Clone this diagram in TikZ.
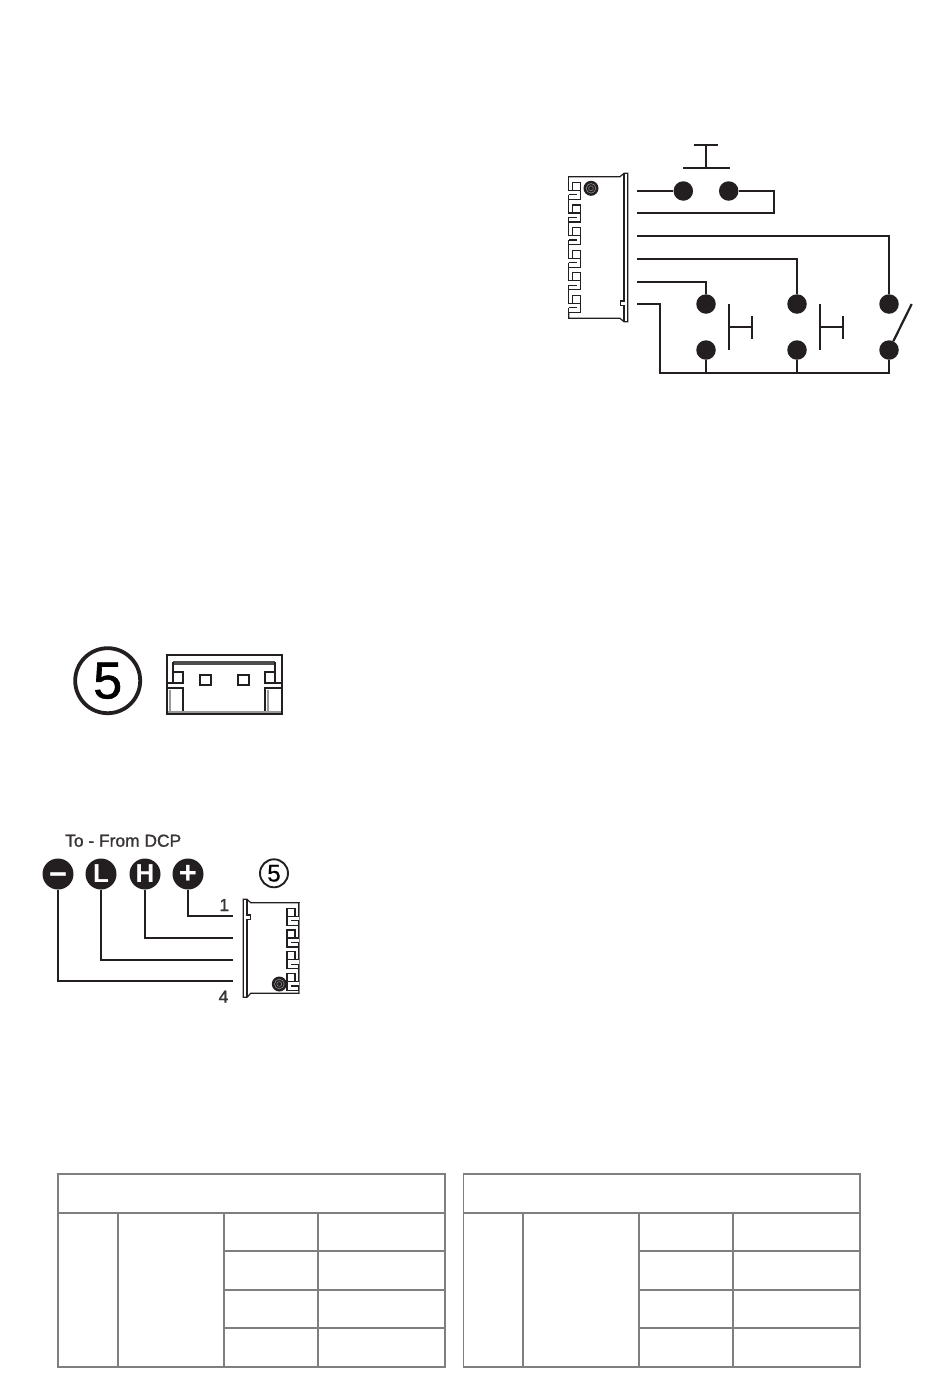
\documentclass[tikz,border=0pt]{standalone}
\usepackage{fontspec}
\setmainfont{Liberation Sans}
\tikzset{
  x=1pt,y=-1pt,
  wire/.style={draw=wirecol,line width=2.2pt,line join=miter},
  dot/.style={circle,fill=wirecol,draw=none,minimum size=19.5pt,inner sep=0pt},
  badge/.style={circle,fill=wirecol,draw=none,minimum size=31pt,inner sep=0pt,text=white,font=\fontsize{26}{26}\selectfont\bfseries},
  gridline/.style={draw=gridcol,line width=1.9pt,line cap=rect},
  fine/.style={draw=wirecol,line width=1.2pt,line join=miter},
  thinwire/.style={draw=wirecol,line width=1.8pt,line join=miter},
  heavy/.style={draw=wirecol,line width=1.9pt,line join=miter},
  screw/.style={circle,fill=wirecol,draw=none,minimum size=15pt,inner sep=0pt},
  label/.style={inner sep=0pt,text=wirecol!90,font=\fontsize{17.4}{20}\selectfont},
  pics/tooth/.style={code={
    \draw[fine] (0,-6)--(0,8)--(12,8) (0,12.5)--(8,12.5) (0,12.5)--(0,17)--(4,17);
    \draw[fine] (4,8)--(4,0)--(12,0)--(12,17)--(4,17);
  }},
  pics/screwhead/.style={code={
    \node[screw] at (0,0) {};
    \draw[white!55!black,line width=0.6pt] (0,0) circle (4.8);
    \draw[white!55!black,line width=0.5pt] (0,0) circle (2.4);
  }}
}
\definecolor{wirecol}{HTML}{231F20}
\definecolor{gridcol}{HTML}{7F7F7F}
\begin{document}
\begin{tikzpicture}
\useasboundingbox[fill=white] (0,0) rectangle (950,1374);

% ---- upper right: connector
\foreach \i in {0,...,5} \pic at (568.8,{182.3+22.6*\i}) {tooth};
\draw[fine] (568.8,176.7)--(620,176.7)--(624,173.3)--(627.7,173.3)--(627.7,321.7)--(624,321.7)--(620,318.3)--(568.8,318.3)--(568.8,312.5);
\draw[fine] (624,173.3)--(624,301)--(620.7,301)--(620.7,305.7)--(624,305.7)--(624,321.7);
\pic at (591,188.3) {screwhead};

\node[dot] (s1a) at (683.3,191) {};
\node[dot] (s1b) at (728.7,191) {};
\node[dot] (s2a) at (706,304) {};
\node[dot] (s2b) at (706,350) {};
\node[dot] (s3a) at (797,304) {};
\node[dot] (s3b) at (797,350) {};
\node[dot] (s4a) at (889,304) {};
\node[dot] (s4b) at (889,350) {};
\coordinate (p1) at (637,191);
\coordinate (p2) at (637,213);
\coordinate (p3) at (637,236);
\coordinate (p4) at (637,259);
\coordinate (p5) at (637,282);
\coordinate (p6) at (637,304);
\coordinate (bus) at (660,373);

\draw[wire] (p1)--(s1a);
\draw[wire] (s1b)--(774,191)--(774,213)--(p2);
\draw[wire] (p3)--(889,236)--(s4a);
\draw[wire] (p4)--(797,259)--(s3a);
\draw[wire] (p5)--(706,282)--(s2a);
\draw[wire] (p6)--(660,304)--(bus)--(889,373)--(s4b);
\draw[wire] (s2b)--(706,373);
\draw[wire] (s3b)--(797,373);

% push buttons
\draw[wire] (694,145)--(718,145) (706,145)--(706,168) (683,168)--(730,168);
\draw[wire] (729,304)--(729,350) (729,327)--(752,327) (752,316)--(752,339);
\draw[wire] (820,304)--(820,350) (820,327)--(843,327) (843,316)--(843,339);
% toggle switch
\draw[wire] (s4b)--(911.7,304);

% ---- left: badge and socket
\node[circle,draw=wirecol,line width=3.8pt,minimum size=65pt,inner sep=0pt,font=\fontsize{52}{52}\selectfont] (five) at (107.7,680.7) {\addfontfeature{FakeBold=1.2}5};

\draw[heavy,line width=2.3pt] (166.7,654.8) rectangle (281.7,714.2);
\draw[wirecol!80,line width=4pt] (173.3,663)--(275,663);
\draw[heavy] (173.3,662)--(173.3,682.7) (275,662)--(275,682.7);
\draw[heavy] (173.3,671.7)--(183.3,671.7)--(183.3,682.7)--(166.7,682.7);
\draw[heavy] (275,671.7)--(265,671.7)--(265,682.7)--(281.7,682.7);
\draw[heavy] (166.7,688.3)--(183.3,688.3)--(183.3,714.2);
\draw[heavy] (281.7,688.3)--(265,688.3)--(265,714.2);
\draw[heavy] (200,675.2) rectangle (210.7,685);
\draw[heavy] (238,675.2) rectangle (248.7,685);
\draw[black!40,line width=2pt] (168,712)--(280.5,712);
\draw[black!40,line width=2pt] (268,690)--(268,711) (170,690)--(170,711);

% ---- left lower: connector to DCP
\node[label,anchor=base west] (title) at (65,846.7) {\addfontfeature{FakeBold=1.2}To - From DCP};
\node[badge,font=\fontsize{30}{30}\selectfont\bfseries] (bm) at (58,874) {\smash{\raisebox{-10pt}{\addfontfeature{FakeBold=1}−}}};
\node[badge] (bl) at (101,874) {L};
\node[badge] (bh) at (145,874) {H};
\node[badge,font=\fontsize{31}{31}\selectfont\bfseries] (bp) at (188,874) {+};
\node[circle,draw=wirecol,line width=1.9pt,minimum size=28pt,inner sep=0pt,font=\fontsize{24}{24}\selectfont] (five2) at (274,873.3) {\addfontfeature{FakeBold=0.6}5};
\coordinate (q1) at (233,916);
\coordinate (q2) at (233,938);
\coordinate (q3) at (233,960);
\coordinate (q4) at (233,981);
\draw[thinwire] (bp)--(188,916)--(q1);
\draw[thinwire] (bh)--(145,938)--(q2);
\draw[thinwire] (bl)--(101,960)--(q3);
\draw[thinwire] (bm)--(58,981)--(q4);
\node[label,anchor=base] (n1) at (224.3,911) {\addfontfeature{FakeBold=1.2}1};
\node[label,anchor=base] (n4) at (223.5,1002.7) {\addfontfeature{FakeBold=1.2}4};

\foreach \i in {0,...,3} \pic[xscale=-1] at (299,{908.3+21.7*\i}) {tooth};
\draw[fine] (299,902.7)--(250.7,902.7)--(247,899.3)--(243.3,899.3)--(243.3,997.3)--(247,997.3)--(250.7,993.3)--(299,993.3)--(299,990);
\draw[fine] (247,899.3)--(247,915)--(250.7,915)--(250.7,919.3)--(247,919.3)--(247,997.3);
\draw[black!50,line width=0.7pt] (299,902.7)--(299,993.3);
\pic at (279.3,984) {screwhead};

% ---- tables
\foreach \l/\a/\b/\c/\r in {57.7/117.7/224/318/445, 463.5/523/639/733/860}{
  \draw[gridline] (\l,1174) rectangle (\r,1366.7);
  \draw[gridline] (\l,1212.7)--(\r,1212.7);
  \draw[gridline] (\a,1212.7)--(\a,1366.7);
  \draw[gridline] (\b,1212.7)--(\b,1366.7);
  \draw[gridline] (\c,1212.7)--(\c,1366.7);
  \draw[gridline] (\b,1251)--(\r,1251);
  \draw[gridline] (\b,1290)--(\r,1290);
  \draw[gridline] (\b,1328.3)--(\r,1328.3);
}
\end{tikzpicture}
\end{document}
